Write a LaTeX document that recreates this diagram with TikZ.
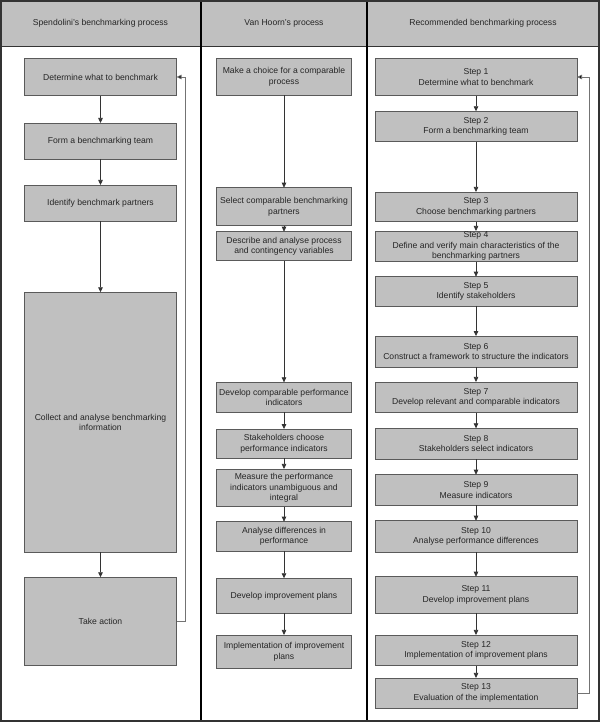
\documentclass[tikz,border=0pt]{standalone}
\usepackage{fontspec}
\setmainfont{Liberation Sans}
\usetikzlibrary{arrows.meta}
\definecolor{boxgray}{HTML}{C0C0C0}
\definecolor{edgegray}{HTML}{5A5A5A}
\definecolor{framegray}{HTML}{333333}
\begin{document}
\begin{tikzpicture}[x=1pt,y=-1pt,
  every node/.style={font=\fontsize{8.6}{10.5}\selectfont, text=black!85},
  box/.style={draw=edgegray, line width=0.8pt, fill=boxgray, inner sep=0pt, outer sep=0pt, align=center},
  lbox/.style={box, minimum width=152pt},
  mbox/.style={box, minimum width=135pt},
  rbox/.style={box, minimum width=202pt},
  arr/.style={draw=black!80, line width=0.7pt, -{Triangle[length=5pt,width=4.5pt]}},
  back/.style={draw=black!55, line width=0.8pt, -{Triangle[length=5pt,width=4.5pt,fill=black]}},
  hdr/.style={font=\fontsize{8.6}{10.5}\selectfont},
  frame/.style={draw=framegray, line width=2pt},
  divider/.style={draw=black, line width=2pt}]
\useasboundingbox (0,0) rectangle (600,722);
% header band
\fill[boxgray] (1,1) rectangle (599,46.3);
\draw[line width=1.2pt, framegray] (1,46.3) -- (599,46.3);
\draw[divider] (200.7,1) -- (200.7,721);
\draw[divider] (366.5,1) -- (366.5,721);
\draw[frame] (1,1) rectangle (599,721);
\node[hdr] (h1) at (100.5,23.5) {Spendolini's benchmarking process};
\node[hdr] (h2) at (284,23.5) {Van Hoorn's process};
\node[hdr] (h3) at (483,23.5) {Recommended benchmarking process};

% left column
\node[lbox, minimum height=37.5pt] (l1) at (100.5,77) {Determine what to benchmark};
\node[lbox, minimum height=36pt] (l2) at (100.5,141) {Form a benchmarking team};
\node[lbox, minimum height=36pt] (l3) at (100.5,203) {Identify benchmark partners};
\node[lbox, minimum height=260pt] (l4) at (100.5,422.3) {Collect and analyse benchmarking\\information};
\node[lbox, minimum height=88.4pt] (l5) at (100.5,621.5) {Take action};
\draw[arr] (l1) -- (l2);
\draw[arr] (l2) -- (l3);
\draw[arr] (l3) -- (l4);
\draw[arr] (l4) -- (l5);
\coordinate (lf) at (185,0);
\draw[back] (l5.east) -- (l5.east -| lf) -- (l1.east -| lf) -- (l1.east);

% middle column
\node[mbox, minimum height=36.5pt] (m1) at (284,77) {Make a choice for a comparable\\process};
\node[mbox, minimum height=38pt] (m2) at (284,206.7) {Select comparable benchmarking\\partners};
\node[mbox, minimum height=29pt] (m3) at (284,246.2) {Describe and analyse process\\and contingency variables};
\node[mbox, minimum height=29.7pt] (m4) at (284,397.2) {Develop comparable performance\\indicators};
\node[mbox, minimum height=29.3pt] (m5) at (284,443.7) {Stakeholders choose\\performance indicators};
\node[mbox, minimum height=37.7pt] (m6) at (284,487.8) {Measure the performance\\indicators unambiguous and\\integral};
\node[mbox, minimum height=29.3pt] (m7) at (284,536.3) {Analyse differences in\\performance};
\node[mbox, minimum height=35pt] (m8) at (284,595.8) {Develop improvement plans};
\node[mbox, minimum height=33.7pt] (m9) at (284,651.8) {Implementation of improvement\\plans};
\foreach \a/\b in {m1/m2,m2/m3,m3/m4,m4/m5,m5/m6,m6/m7,m7/m8,m8/m9}
  \draw[arr] (\a) -- (\b);

% right column
\node[rbox, minimum height=37.4pt] (r1) at (476,77) {Step 1\\Determine what to benchmark};
\node[rbox, minimum height=30.4pt] (r2) at (476,126.5) {Step 2\\Form a benchmarking team};
\node[rbox, minimum height=29.7pt] (r3) at (476,206.8) {Step 3\\Choose benchmarking partners};
\node[rbox, minimum height=30.7pt] (r4) at (476,246.3) {Step 4\\Define and verify main characteristics of the\\benchmarking partners};
\node[rbox, minimum height=29.3pt] (r5) at (476,291.3) {Step 5\\Identify stakeholders};
\node[rbox, minimum height=31.3pt] (r6) at (476,351.7) {Step 6\\Construct a framework to structure the indicators};
\node[rbox, minimum height=30.7pt] (r7) at (476,397.3) {Step 7\\Develop relevant and comparable indicators};
\node[rbox, minimum height=30.7pt] (r8) at (476,443.7) {Step 8\\Stakeholders select indicators};
\node[rbox, minimum height=30.6pt] (r9) at (476,490) {Step 9\\Measure indicators};
\node[rbox, minimum height=31.6pt] (r10) at (476,536.5) {Step 10\\Analyse performance differences};
\node[rbox, minimum height=36.6pt] (r11) at (476,595) {Step 11\\Develop improvement plans};
\node[rbox, minimum height=30.7pt] (r12) at (476,650.3) {Step 12\\Implementation of improvement plans};
\node[rbox, minimum height=30.3pt] (r13) at (476,693.1) {Step 13\\Evaluation of the implementation};
\foreach \a/\b in {r1/r2,r2/r3,r3/r4,r4/r5,r5/r6,r6/r7,r7/r8,r8/r9,r9/r10,r10/r11,r11/r12,r12/r13}
  \draw[arr] (\a) -- (\b);
\coordinate (rf) at (589,0);
\draw[back] (r13.east) -- (r13.east -| rf) -- (r1.east -| rf) -- (r1.east);
\end{tikzpicture}
\end{document}
